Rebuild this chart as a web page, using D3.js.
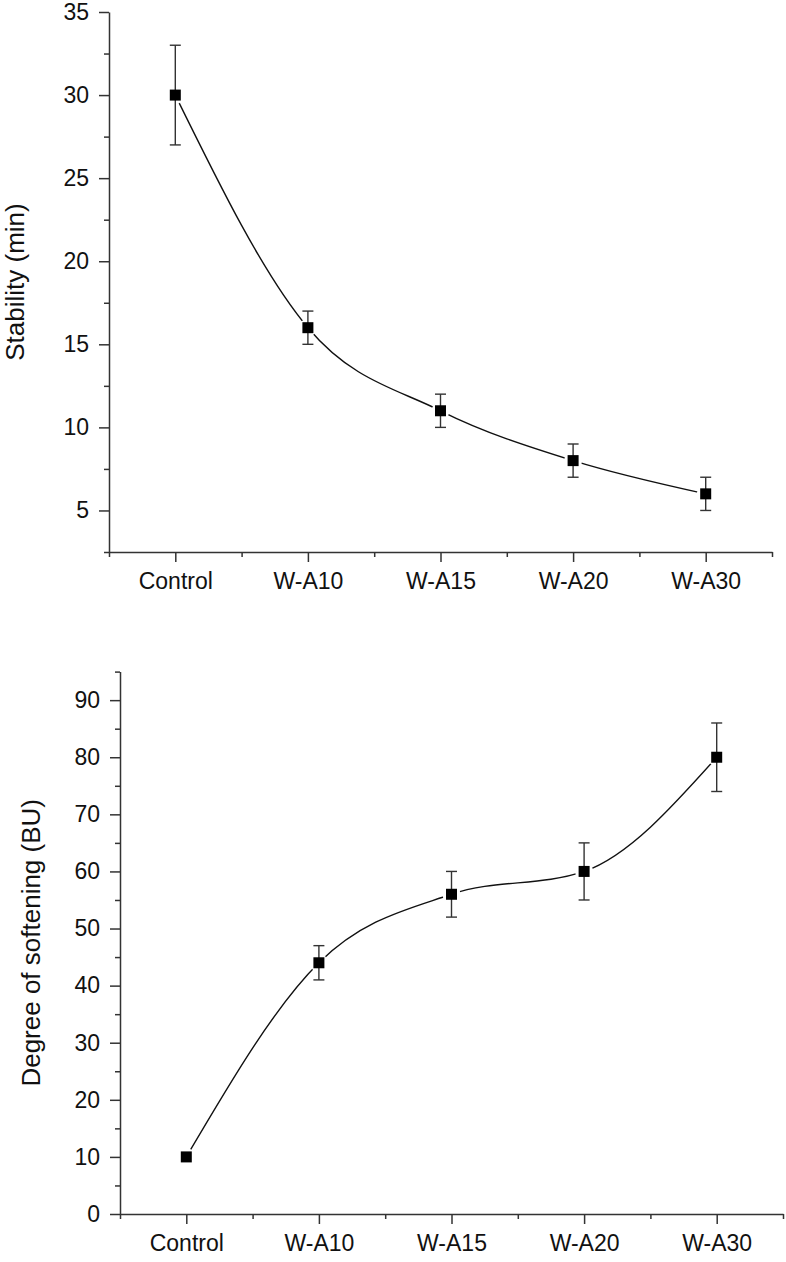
<!DOCTYPE html>
<html>
<head>
<meta charset="utf-8">
<script src="https://cdn.jsdelivr.net/npm/d3@7"></script>
<style>
  html, body { margin: 0; padding: 0; background: #fff; }
  svg { display: block; }
  text { font-family: "Liberation Sans", Arial, sans-serif; fill: #111; }
</style>
</head>
<body>
<svg id="chart" width="786" height="1262"></svg>
<script>
// ---- data ----
const categories = ["Control", "W-A10", "W-A15", "W-A20", "W-A30"];
const stabilityValues = [30, 16, 11, 8, 6];
const stabilityErrors = [3, 1, 1, 1, 1];
const softeningValues = [10, 44, 56, 60, 80];
const softeningErrors = [0, 3, 4, 5, 6];
const stabilityMajorTicks = [5, 10, 15, 20, 25, 30, 35];
const stabilityMinorTicks = [2.5, 7.5, 12.5, 17.5, 22.5, 27.5, 32.5];
const softeningMajorTicks = [0, 10, 20, 30, 40, 50, 60, 70, 80, 90];
const softeningMinorTicks = [5, 15, 25, 35, 45, 55, 65, 75, 85, 95];
const stabilityTitle = "Stability (min)";
const softeningTitle = "Degree of softening (BU)";

const svg = d3.select("#chart");
const axisColor = "#333";

function drawPanel(cfg) {
  const g = svg.append("g");
  const x = d3.scaleLinear().domain([-0.5, categories.length - 0.5]).range([cfg.left, cfg.right]);
  const y = d3.scaleLinear().domain(cfg.yDomain).range([cfg.bottom, cfg.top]);
  const majorX = categories.map((c, i) => i);
  const minorX = d3.range(-0.5, categories.length, 1);

  // minor y ticks
  g.append("g").attr("transform", `translate(${cfg.left},0)`)
    .call(d3.axisLeft(y).tickValues(cfg.minorTicks).tickSize(5).tickSizeOuter(0).tickFormat(""))
    .call(a => a.select(".domain").remove());
  // major y
  g.append("g").attr("class", "yaxis").attr("transform", `translate(${cfg.left},0)`)
    .call(d3.axisLeft(y).tickValues(cfg.majorTicks).tickSize(10).tickSizeOuter(0).tickPadding(10).tickFormat(d3.format("d")));
  // minor x
  g.append("g").attr("transform", `translate(0,${cfg.bottom})`)
    .call(d3.axisBottom(x).tickValues(minorX).tickSize(5).tickSizeOuter(0).tickFormat(""))
    .call(a => a.select(".domain").remove());
  // major x
  g.append("g").attr("class", "xaxis").attr("transform", `translate(0,${cfg.bottom})`)
    .call(d3.axisBottom(x).tickValues(majorX).tickSize(10).tickSizeOuter(0).tickPadding(11).tickFormat(i => categories[i]));

  g.selectAll(".domain, .tick line").attr("stroke", axisColor).attr("stroke-width", 1.5);
  g.selectAll(".tick text").attr("font-size", 23).attr("fill", "#111")
    .attr("font-family", '"Liberation Sans", Arial, sans-serif');

  // y title
  const cy = (cfg.top + cfg.bottom) / 2;
  g.append("text")
    .attr("transform", `translate(${cfg.titleX},${cy}) rotate(-90)`)
    .attr("text-anchor", "middle")
    .attr("font-size", 26)
    .text(cfg.title);

  const pts = cfg.values.map((v, i) => [x(i), y(v)]);
  // curve
  g.append("path")
    .attr("d", d3.line().curve(d3.curveMonotoneX)(pts))
    .attr("fill", "none").attr("stroke", "#111").attr("stroke-width", 1.4);
  // gaps around markers
  g.selectAll(".gap").data(cfg.values).join("circle")
    .attr("cx", (d, i) => x(i)).attr("cy", d => y(d)).attr("r", 9).attr("fill", "#fff");
  // error bars
  const eb = g.selectAll(".eb").data(cfg.values.map((v, i) => ({ i, v, e: cfg.errors[i] })).filter(d => d.e > 0))
    .join("g").attr("stroke", "#333").attr("stroke-width", 1.4);
  eb.append("line").attr("x1", d => x(d.i)).attr("x2", d => x(d.i))
    .attr("y1", d => y(d.v - d.e)).attr("y2", d => y(d.v + d.e));
  eb.append("line").attr("x1", d => x(d.i) - 5.5).attr("x2", d => x(d.i) + 5.5)
    .attr("y1", d => y(d.v + d.e)).attr("y2", d => y(d.v + d.e));
  eb.append("line").attr("x1", d => x(d.i) - 5.5).attr("x2", d => x(d.i) + 5.5)
    .attr("y1", d => y(d.v - d.e)).attr("y2", d => y(d.v - d.e));
  // markers
  g.selectAll(".mk").data(cfg.values).join("rect")
    .attr("x", (d, i) => x(i) - 5.5).attr("y", d => y(d) - 5.5)
    .attr("width", 11).attr("height", 11).attr("fill", "#000");
}

drawPanel({
  left: 109, right: 772, top: 12, bottom: 552,
  yDomain: [2.5, 35],
  majorTicks: stabilityMajorTicks, minorTicks: stabilityMinorTicks,
  values: stabilityValues, errors: stabilityErrors,
  title: stabilityTitle, titleX: 24
});

drawPanel({
  left: 120, right: 783, top: 671.6, bottom: 1214,
  yDomain: [0, 95],
  majorTicks: softeningMajorTicks, minorTicks: softeningMinorTicks,
  values: softeningValues, errors: softeningErrors,
  title: softeningTitle, titleX: 40
});
</script>
</body>
</html>
